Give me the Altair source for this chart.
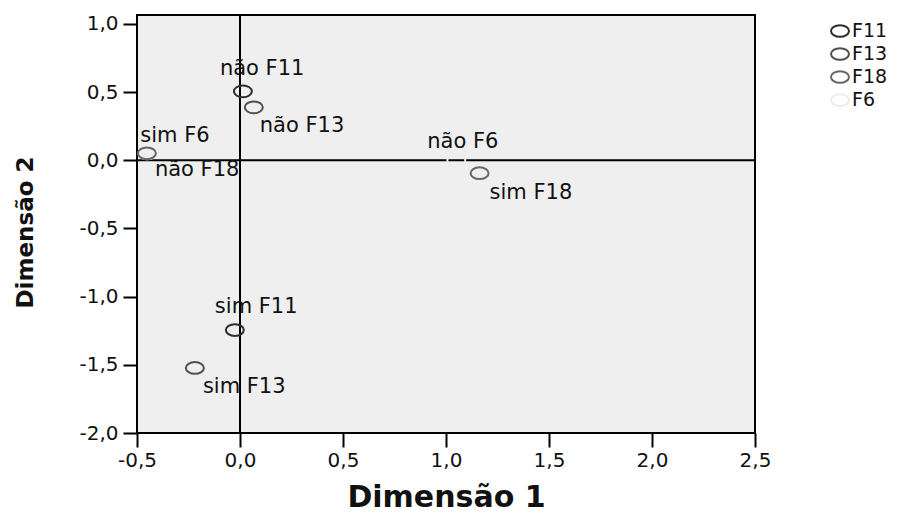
import altair as alt
import pandas as pd

# ---- data ----
labels = ["não F11", "não F13", "sim F6", "não F18", "não F6", "sim F18", "sim F11", "sim F13"]
variables = ["F11", "F13", "F6", "F18", "F6", "F18", "F11", "F13"]
dim1 = [0.014, 0.067, -0.45, -0.452, 1.05, 1.163, -0.025, -0.219]
dim2 = [0.505, 0.388, 0.05, 0.051, 0.0, -0.095, -1.245, -1.523]

x_ticks = [-0.5, 0.0, 0.5, 1.0, 1.5, 2.0, 2.5]
y_ticks = [-2.0, -1.5, -1.0, -0.5, 0.0, 0.5, 1.0]

legend_order = ["F11", "F13", "F18", "F6"]
legend_colors = ["#2c2c2c", "#505050", "#666666", "#ececec"]

# ---- label placement (style, pixel offsets from the point) ----
label_dx = [-23, 6, -7, 8, -29, 10, -20, 8]
label_dy = [-22, 19, -17, 17, -18, 20, -23, 19]

df = pd.DataFrame({"label": labels, "variable": variables, "dim1": dim1, "dim2": dim2})

ELLIPSE = ("M-1,0 C-1,-0.359 -0.552,-0.65 0,-0.65 C0.552,-0.65 1,-0.359 1,0 "
           "C1,0.359 0.552,0.65 0,0.65 C-0.552,0.65 -1,0.359 -1,0 Z")
FONT = "DejaVu Sans"
LBL = "replace(replace(format(datum.value, '.1f'), '.', ','), '\u2212', '-')"

x_enc = alt.X(
    "dim1:Q",
    scale=alt.Scale(domain=[-0.5, 2.5], nice=False, zero=False),
    axis=alt.Axis(
        values=x_ticks, labelExpr=LBL, title="Dimensão 1",
        titleFont=FONT, titleFontSize=30, titleFontWeight="bold", titleColor="#111111",
        titleY=64, titleBaseline="middle",
        labelFont=FONT, labelFontSize=20, labelColor="#111111", labelPadding=3,
        labelFlush=False, labelOverlap=False,
        tickSize=14, tickWidth=2, tickColor="black", domain=False, grid=False,
    ),
)
y_enc = alt.Y(
    "dim2:Q",
    scale=alt.Scale(domain=[-2.0, 1.065], nice=False, zero=False),
    axis=alt.Axis(
        values=y_ticks, labelExpr=LBL, title="Dimensão 2",
        titleFont=FONT, titleFontSize=23, titleFontWeight="bold", titleColor="#111111",
        titleX=-112, titleY=217, titleBaseline="middle", titleAlign="center",
        labelFont=FONT, labelFontSize=20, labelColor="#111111", labelPadding=5,
        labelFlush=False, labelOverlap=False,
        tickSize=14, tickWidth=2, tickColor="black", domain=False, grid=False,
    ),
)

base = alt.Chart(df)

vline = alt.Chart(pd.DataFrame({"v": [0.0]})).mark_rule(color="black", strokeWidth=2).encode(x=alt.X("v:Q"))
hline = alt.Chart(pd.DataFrame({"h": [0.0]})).mark_rule(color="black", strokeWidth=2).encode(y=alt.Y("h:Q"))

points = base.mark_point(shape=ELLIPSE, filled=False, size=324, strokeWidth=2, opacity=1).encode(
    x=x_enc,
    y=y_enc,
    color=alt.Color(
        "variable:N",
        scale=alt.Scale(domain=legend_order, range=legend_colors),
        legend=alt.Legend(
            orient="none", legendX=693, legendY=6, title=None,
            symbolType=ELLIPSE, symbolSize=324, symbolStrokeWidth=2,
            labelFont=FONT, labelFontSize=19, labelColor="#111111",
            labelOffset=2, rowPadding=3,
        ),
    ),
)

text_layers = []
for lab, dx, dy in zip(labels, label_dx, label_dy):
    text_layers.append(
        base.transform_filter(alt.datum.label == lab)
        .mark_text(align="left", baseline="middle", font=FONT, fontSize=21, color="#111111", dx=dx, dy=dy)
        .encode(x=alt.X("dim1:Q"), y=alt.Y("dim2:Q"), text="label:N")
    )

chart = (
    alt.layer(vline, hline, points, *text_layers)
    .properties(
        width=618, height=418,
        autosize=alt.AutoSizeParams(type="none"),
        padding={"left": 129, "top": 7, "right": 155, "bottom": 80},
        background="white",
    )
    .configure_view(stroke="black", strokeWidth=2, fill="#efefef")
)

chart.save("out.html", embed_options={"renderer": "svg", "actions": False})
